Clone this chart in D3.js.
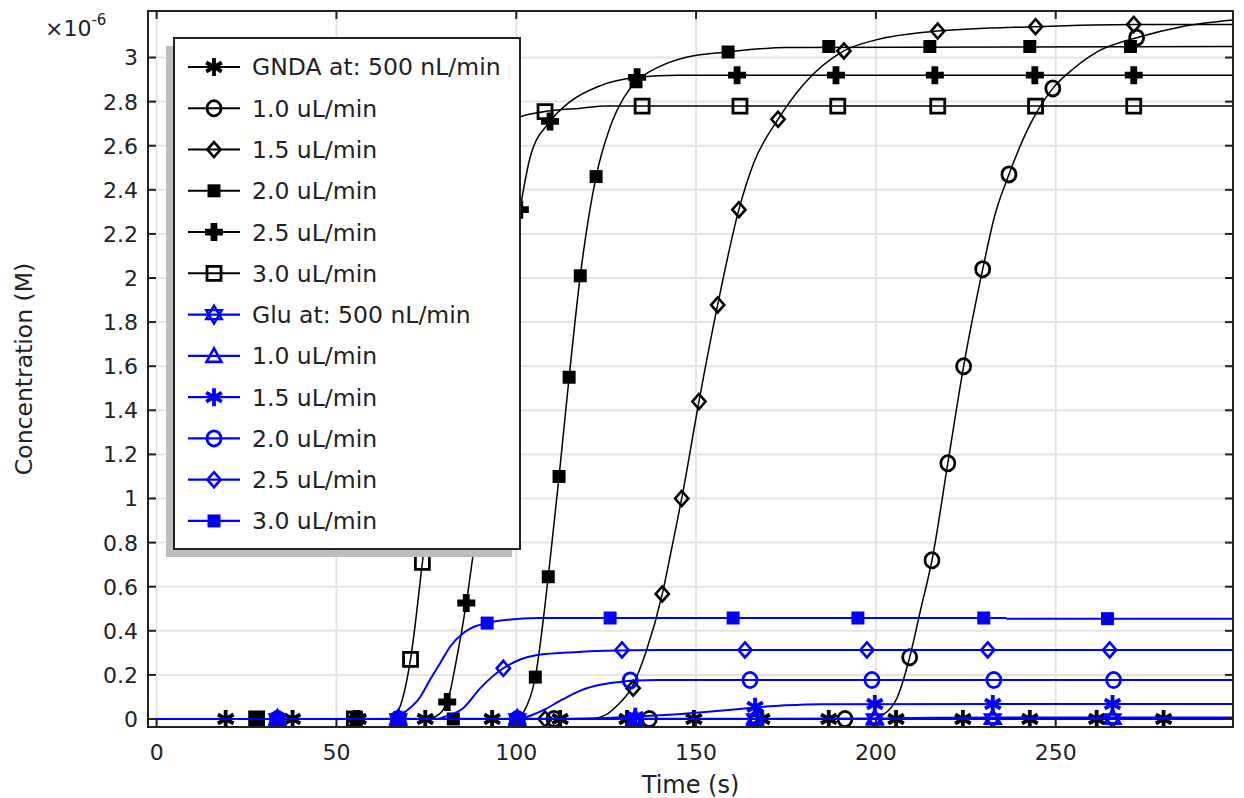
<!DOCTYPE html>
<html><head><meta charset="utf-8">
<script src="https://cdn.jsdelivr.net/npm/d3@7"></script>
<style>
body{margin:0;background:#fff}
svg{display:block}
text{font-family:"DejaVu Sans",sans-serif;fill:#222}
</style>
</head><body>
<svg id="chart" width="1244" height="798"></svg>
<script>
// ---------- data (concentration in units of 1e-6 M, time in s) ----------
const xTicks = [0, 50, 100, 150, 200, 250];
const xTickLabels = ["0", "50", "100", "150", "200", "250"];
const yTicks = [0, 0.2, 0.4, 0.6, 0.8, 1, 1.2, 1.4, 1.6, 1.8, 2, 2.2, 2.4, 2.6, 2.8, 3];
const yTickLabels = ["0","0.2","0.4","0.6","0.8","1","1.2","1.4","1.6","1.8","2","2.2","2.4","2.6","2.8","3"];

const seriesNames = ["GNDA at: 500 nL/min","1.0 uL/min","1.5 uL/min","2.0 uL/min","2.5 uL/min","3.0 uL/min",
                     "Glu at: 500 nL/min","1.0 uL/min","1.5 uL/min","2.0 uL/min","2.5 uL/min","3.0 uL/min"];

// GNDA (black)
const gnda05Line = [[0,0],[299.3,0]];
const gnda05Marks = [[19.2,0],[37.8,0],[56.1,0],[74.7,0],[93.3,0],[112.2,0],[130.8,0],[149.4,0],[168.3,0],[186.9,0],[205.6,0],[224.2,0],[242.8,0],[261.4,0],[280,0]];

const gnda10Line = [[0,0],[198,0],[202,0.02],[206,0.1],[209.4,0.28],[212.5,0.5],[215.6,0.72],[220,1.16],[224.4,1.6],[229.7,2.04],[233,2.28],[237,2.47],[243,2.7],[249.2,2.86],[255,2.95],[262,3.03],[272.5,3.09],[285,3.14],[299.3,3.17]];
const gnda10Marks = [[110.5,0],[137,0],[167,0],[191.4,0],[209.4,0.28],[215.6,0.72],[220,1.16],[224.4,1.6],[229.7,2.04],[237,2.47],[249.2,2.86],[272.5,3.09]];

const gnda15Line = [[0,0],[120,0],[125,0.02],[128,0.06],[132,0.14],[136,0.3],[140.6,0.567],[143.3,0.78],[146,1.0],[150.8,1.44],[156,1.878],[161.9,2.31],[166,2.52],[172.8,2.72],[180,2.88],[191.1,3.03],[200,3.08],[217.2,3.12],[244.4,3.14],[271.7,3.15],[299.3,3.15]];
const gnda15Marks = [[108,0],[132.5,0.14],[140.6,0.567],[146,1.0],[150.8,1.44],[156,1.878],[161.9,2.31],[172.8,2.72],[191.1,3.03],[217.2,3.12],[244.4,3.14],[271.7,3.15]];

const gnda20Line = [[0,0],[100,0],[102,0.03],[105.3,0.19],[108.9,0.645],[111.9,1.1],[114.7,1.55],[117.8,2.01],[122.2,2.46],[126,2.68],[130,2.82],[133.3,2.89],[140,2.96],[147,3.0],[158.6,3.025],[175,3.045],[299.3,3.05]];
const gnda20Marks = [[27.8,0],[55.5,0],[82.5,0],[105.3,0.19],[108.9,0.645],[111.9,1.1],[114.7,1.55],[117.8,2.01],[122.2,2.46],[133.3,2.89],[158.9,3.025],[186.9,3.05],[215,3.05],[242.8,3.05],[270.8,3.05]];

const gnda25Line = [[0,0],[75,0],[77.5,0.01],[80.8,0.077],[83.5,0.28],[86.1,0.526],[90,1.0],[95,1.7],[101,2.31],[103.9,2.55],[109.4,2.71],[115,2.8],[123,2.87],[133.6,2.91],[145,2.92],[299.3,2.92]];
const gnda25Marks = [[55.5,0],[80.8,0.077],[86.1,0.526],[101,2.31],[109.4,2.71],[133.6,2.91],[161.4,2.92],[188.9,2.92],[216.4,2.92],[244.2,2.92],[271.7,2.92]];

const gnda30Line = [[0,0],[65,0],[67,0.03],[70.6,0.27],[73.9,0.71],[78,1.3],[82,1.9],[86,2.3],[90,2.5],[95,2.64],[101,2.73],[108,2.755],[118,2.77],[125,2.78],[299.3,2.78]];
const gnda30Marks = [[27.8,0],[55,0],[70.6,0.27],[73.9,0.71],[108,2.755],[135,2.78],[162.2,2.78],[189.4,2.78],[217.2,2.78],[244.4,2.78],[271.7,2.78]];

// Glu (blue)
const glu05Line = [[0,0],[299.3,0]];
const glu05Marks = [[33.6,0],[67.2,0],[100.3,0],[133.1,0],[166.4,0],[199.7,0],[232.5,0],[265.8,0]];

const glu10Line = [[0,0],[200,0.002],[216,0.006],[299.3,0.007]];
const glu10Marks = [[33.6,0],[67.2,0],[100.3,0],[133.1,0],[166.4,0],[199.7,0.002],[232.5,0.006],[265.8,0.007]];

const glu15Line = [[0,0],[112,0],[125,0.005],[135,0.012],[145,0.022],[155,0.035],[165,0.05],[175,0.062],[185,0.067],[299.3,0.068]];
const glu15Marks = [[33.6,0],[67.2,0],[100.3,0],[133.1,0.01],[166.4,0.055],[199.7,0.068],[232.5,0.068],[265.8,0.068]];

const glu20Line = [[0,0],[100,0],[103,0.01],[107.5,0.04],[113,0.09],[118,0.13],[123.3,0.155],[128.9,0.168],[132,0.174],[140,0.177],[299.3,0.177]];
const glu20Marks = [[33.6,0],[67.2,0],[100.3,0],[131.7,0.175],[165,0.177],[198.9,0.177],[232.8,0.177],[266.1,0.177]];

const glu25Line = [[0,0],[78,0],[80,0.01],[85.3,0.05],[90,0.14],[96.4,0.23],[101.1,0.27],[105.8,0.29],[113,0.3],[125,0.31],[140,0.313],[299.3,0.313]];
const glu25Marks = [[33.6,0],[67.2,0],[96.4,0.23],[129.4,0.313],[163.6,0.313],[197.5,0.313],[231.1,0.313],[265,0.313]];

const glu30Line = [[0,0],[66,0],[68,0.02],[73.3,0.1],[76.1,0.18],[78.9,0.255],[81.7,0.33],[85.3,0.39],[87.2,0.41],[91.9,0.435],[97.5,0.45],[106,0.458],[236,0.458],[236.5,0.455],[299.3,0.455]];
const glu30Marks = [[33.6,0],[67.5,0.005],[91.9,0.435],[126.1,0.458],[160.3,0.458],[195,0.458],[230,0.458],[264.4,0.455]];

// ---------- build ----------
const BLACK = "#000", BLUE = "#0000ff";
const series = [
  {name: seriesNames[0], color: BLACK, shape: "asterisk", line: gnda05Line, marks: gnda05Marks},
  {name: seriesNames[1], color: BLACK, shape: "circle",   line: gnda10Line, marks: gnda10Marks},
  {name: seriesNames[2], color: BLACK, shape: "diamond",  line: gnda15Line, marks: gnda15Marks},
  {name: seriesNames[3], color: BLACK, shape: "square",   line: gnda20Line, marks: gnda20Marks},
  {name: seriesNames[4], color: BLACK, shape: "plus",     line: gnda25Line, marks: gnda25Marks},
  {name: seriesNames[5], color: BLACK, shape: "osquare",  line: gnda30Line, marks: gnda30Marks},
  {name: seriesNames[6], color: BLUE,  shape: "hexagram", line: glu05Line,  marks: glu05Marks},
  {name: seriesNames[7], color: BLUE,  shape: "triangle", line: glu10Line,  marks: glu10Marks},
  {name: seriesNames[8], color: BLUE,  shape: "asterisk", line: glu15Line,  marks: glu15Marks},
  {name: seriesNames[9], color: BLUE,  shape: "circle",   line: glu20Line,  marks: glu20Marks},
  {name: seriesNames[10], color: BLUE, shape: "diamond",  line: glu25Line,  marks: glu25Marks},
  {name: seriesNames[11], color: BLUE, shape: "square",   line: glu30Line,  marks: glu30Marks}
];

const L = 148, R = 1233, T = 11, B = 727;
const x = d3.scaleLinear().domain([-2.4, 299.3]).range([L, R]);
const y = d3.scaleLinear().domain([-0.0363, 3.211]).range([B, T]);

const svg = d3.select("#chart");
svg.append("rect").attr("width",1244).attr("height",798).attr("fill","#fff");

svg.append("defs").append("clipPath").attr("id","plotclip")
  .append("rect").attr("x",L).attr("y",T).attr("width",R-L).attr("height",B-T);

// grid
const grid = svg.append("g");
grid.selectAll("line.gx").data(xTicks).join("line")
  .attr("x1",d=>x(d)).attr("x2",d=>x(d)).attr("y1",T).attr("y2",B)
  .attr("stroke","#e4e4e4").attr("stroke-width",2);
grid.selectAll("line.gy").data(yTicks).join("line")
  .attr("y1",d=>y(d)).attr("y2",d=>y(d)).attr("x1",L).attr("x2",R)
  .attr("stroke","#e4e4e4").attr("stroke-width",2);

// marker shapes
function shapeInfo(shape){
  switch(shape){
    case "asterisk": return {d:"M0,-9V9M-7.8,-4.5L7.8,4.5M-7.8,4.5L7.8,-4.5", fill:false, sw:3.8};
    case "circle":   return {d:"M7,0A7,7.6 0 1,1 -7,0A7,7.6 0 1,1 7,0Z", fill:false, sw:2.8};
    case "diamond":  return {d:"M0,-7.5L6.6,0L0,7.5L-6.6,0Z", fill:false, sw:2.6};
    case "square":   return {d:"M-6.5,-6.5H6.5V6.5H-6.5Z", fill:true, sw:0};
    case "plus":     return {d:"M-3.4,-9H3.4V-3.4H9V3.4H3.4V9H-3.4V3.4H-9V-3.4H-3.4Z", fill:true, sw:0};
    case "osquare":  return {d:"M-7,-7H7V7H-7Z", fill:false, sw:2.8};
    case "triangle": return {d:"M0,-7.5L7.5,6H-7.5Z", fill:false, sw:2.6};
    case "hexagram": return {d:"M0,-9L7.8,4.5H-7.8ZM0,9L-7.8,-4.5H7.8Z", fill:false, sw:2.4};
  }
}
function drawMarker(g, shape, color){
  const s = shapeInfo(shape);
  g.append("path").attr("d", s.d)
    .attr("fill", s.fill ? color : "none")
    .attr("stroke", s.fill ? "none" : color)
    .attr("stroke-width", s.sw)
    .attr("stroke-linejoin","miter");
}

// series
const plot = svg.append("g").attr("clip-path","url(#plotclip)");
const lineGen = d3.line().x(d=>x(d[0])).y(d=>y(d[1])).curve(d3.curveMonotoneX);
series.forEach(s=>{
  const g = plot.append("g");
  g.append("path").datum(s.line).attr("d", lineGen)
    .attr("fill","none").attr("stroke", s.color)
    .attr("stroke-width", s.color===BLUE ? 2 : 1.5);
  s.marks.forEach(m=>{
    const mg = g.append("g").attr("transform",`translate(${x(m[0])},${y(m[1])})`);
    drawMarker(mg, s.shape, s.color);
  });
});

// frame & ticks
const axes = svg.append("g");
xTicks.forEach(t=>{
  axes.append("line").attr("x1",x(t)).attr("x2",x(t)).attr("y1",B).attr("y2",B-8).attr("stroke","#222").attr("stroke-width",2);
  axes.append("line").attr("x1",x(t)).attr("x2",x(t)).attr("y1",T).attr("y2",T+8).attr("stroke","#222").attr("stroke-width",2);
});
yTicks.forEach(t=>{
  axes.append("line").attr("y1",y(t)).attr("y2",y(t)).attr("x1",L).attr("x2",L+8).attr("stroke","#222").attr("stroke-width",2);
  axes.append("line").attr("y1",y(t)).attr("y2",y(t)).attr("x1",R).attr("x2",R-8).attr("stroke","#222").attr("stroke-width",2);
});
axes.append("rect").attr("x",L).attr("y",T).attr("width",R-L).attr("height",B-T)
  .attr("fill","none").attr("stroke","#222").attr("stroke-width",2);

// tick labels
xTicks.forEach((t,i)=>{
  svg.append("text").attr("x",x(t)).attr("y",760).attr("text-anchor","middle")
    .attr("font-size",22).text(xTickLabels[i]);
});
yTicks.forEach((t,i)=>{
  svg.append("text").attr("x",138).attr("y",y(t)).attr("dy","0.36em").attr("text-anchor","end")
    .attr("font-size",22).text(yTickLabels[i]);
});

// axis titles
svg.append("text").attr("x",(L+R)/2).attr("y",793).attr("text-anchor","middle")
  .attr("font-size",24).text("Time (s)");
svg.append("text").attr("transform",`translate(32,${(T+B)/2}) rotate(-90)`)
  .attr("text-anchor","middle").attr("font-size",23.5).text("Concentration (M)");
const ex = svg.append("text").attr("x",45).attr("y",36).attr("font-size",22);
ex.append("tspan").text("\u00d710");
ex.append("tspan").attr("dy",-11).attr("font-size",15).text("-6");

// legend
const lg = svg.append("g");
const LX = 174, LY = 38, LW = 346, LH = 511;
lg.append("rect").attr("x",LX-8).attr("y",LY+8).attr("width",LW).attr("height",LH).attr("fill","#bdbdbd");
lg.append("rect").attr("x",LX).attr("y",LY).attr("width",LW).attr("height",LH)
  .attr("fill","#fff").attr("stroke","#222").attr("stroke-width",2);
series.forEach((s,i)=>{
  const ry = 67 + i*41.27;
  lg.append("line").attr("x1",188).attr("x2",240).attr("y1",ry).attr("y2",ry)
    .attr("stroke",s.color).attr("stroke-width",s.color===BLUE?2.2:2);
  const mg = lg.append("g").attr("transform",`translate(214,${ry})`);
  drawMarker(mg, s.shape, s.color);
  lg.append("text").attr("x",252).attr("y",ry).attr("dy","0.36em")
    .attr("font-size",23.5).text(s.name);
});
</script>
</body></html>
